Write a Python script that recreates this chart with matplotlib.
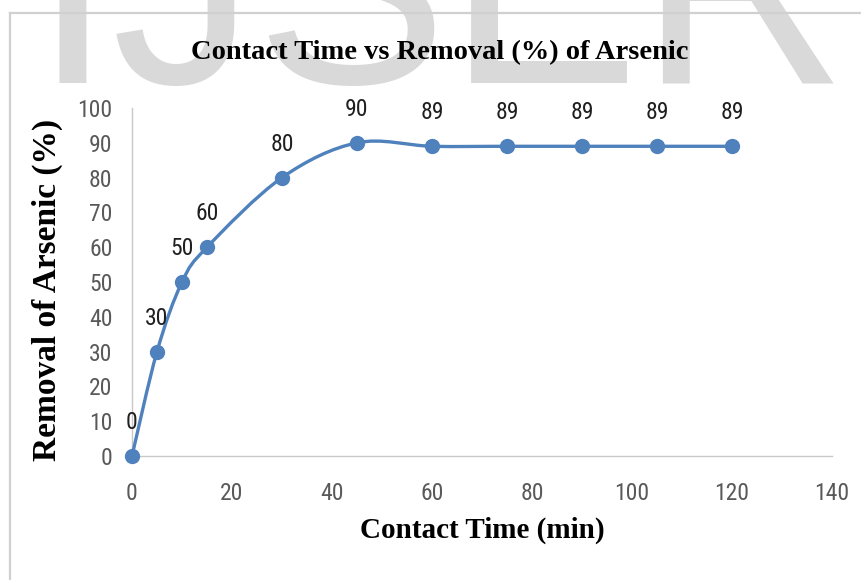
import numpy as np
import matplotlib
matplotlib.use("Agg")
import matplotlib.pyplot as plt
from matplotlib.path import Path
from matplotlib.patches import PathPatch
from matplotlib.lines import Line2D

# contact time (min) and arsenic removal (%)
contact_time = [0, 5, 10, 15, 30, 45, 60, 75, 90, 105, 120]
removal = [0, 30, 50, 60, 80, 90, 89, 89, 89, 89, 89]
x_ticks = [0, 20, 40, 60, 80, 100, 120, 140]
y_ticks = [0, 10, 20, 30, 40, 50, 60, 70, 80, 90, 100]

blue = '#4f81bd'
label_font = ['Roboto Condensed', 'Liberation Sans Narrow', 'Liberation Sans', 'DejaVu Sans']
serif_font = ['Liberation Serif', 'DejaVu Serif']

W, H = 862, 580


def fx(px):
    return px / W


def fy(py):
    return 1 - py / H


def smooth_path(xs, ys):
    # bezier segments with catmull-rom style control points (spreadsheet "smoothed line")
    pts = np.column_stack([xs, ys]).astype(float)
    n = len(pts)
    verts = [pts[0]]
    codes = [Path.MOVETO]
    for i in range(n - 1):
        p0 = pts[max(i - 1, 0)]
        p1 = pts[i]
        p2 = pts[i + 1]
        p3 = pts[min(i + 2, n - 1)]
        c1 = p1 + (p2 - p0) / 6
        c2 = p2 - (p3 - p1) / 6
        verts += [c1, c2, p2]
        codes += [Path.CURVE4] * 3
    return Path(verts, codes)


fig = plt.figure(figsize=(W / 100, H / 100), dpi=100)
fig.patch.set_facecolor('white')

# faint watermark letters across the top
fig.text(fx(33), fy(83), 'IJSER', fontsize=207, color='#d9d9d9',
         family=['Liberation Sans', 'DejaVu Sans'], ha='left', va='baseline', zorder=0)

# chart area border (top and left edges visible)
fig.add_artist(Line2D([fx(10), fx(10)], [fy(13), 0], transform=fig.transFigure,
                      color='#d0d0d0', lw=1.6, zorder=1))
fig.add_artist(Line2D([fx(10), 1], [fy(13), fy(13)], transform=fig.transFigure,
                      color='#d0d0d0', lw=1.6, zorder=1))

ax = fig.add_axes([fx(132), fy(456), fx(832) - fx(132), fy(108) - fy(456)])
ax.patch.set_alpha(0)
ax.set_xlim(0, 140)
ax.set_ylim(0, 100)

ax.add_patch(PathPatch(smooth_path(contact_time, removal), fill=False,
                       edgecolor=blue, lw=2.4, clip_on=False, zorder=3))
ax.plot(contact_time, removal, linestyle='none', marker='o', ms=10,
        color=blue, clip_on=False, zorder=4)

for x, y in zip(contact_time, removal):
    ax.annotate(str(y), (x, y), xytext=(0, 24), textcoords='offset points',
                ha='center', va='center', fontsize=17, color='#1f1f1f',
                family=label_font)

ax.set_xticks(x_ticks)
ax.set_yticks(y_ticks)
ax.tick_params(length=0, labelsize=17, labelcolor='#595959')
ax.tick_params(axis='y', pad=14)
ax.tick_params(axis='x', pad=19)
for lab in ax.get_xticklabels() + ax.get_yticklabels():
    lab.set_family(label_font)

for side in ['top', 'right']:
    ax.spines[side].set_visible(False)
for side in ['left', 'bottom']:
    ax.spines[side].set_color('#c8c8c8')
    ax.spines[side].set_linewidth(1.0)

fig.text(fx(440), fy(53), 'Contact Time vs Removal (%) of Arsenic', fontsize=20.5,
         fontweight='bold', family=serif_font, ha='center', va='center')
fig.text(fx(482), fy(530), 'Contact Time (min)', fontsize=21,
         fontweight='bold', family=serif_font, ha='center', va='center')
fig.text(fx(47), fy(290), 'Removal of Arsenic (%)', fontsize=24, rotation=90,
         fontweight='bold', family=serif_font, ha='center', va='center')

fig.savefig('out.png', dpi=100)
